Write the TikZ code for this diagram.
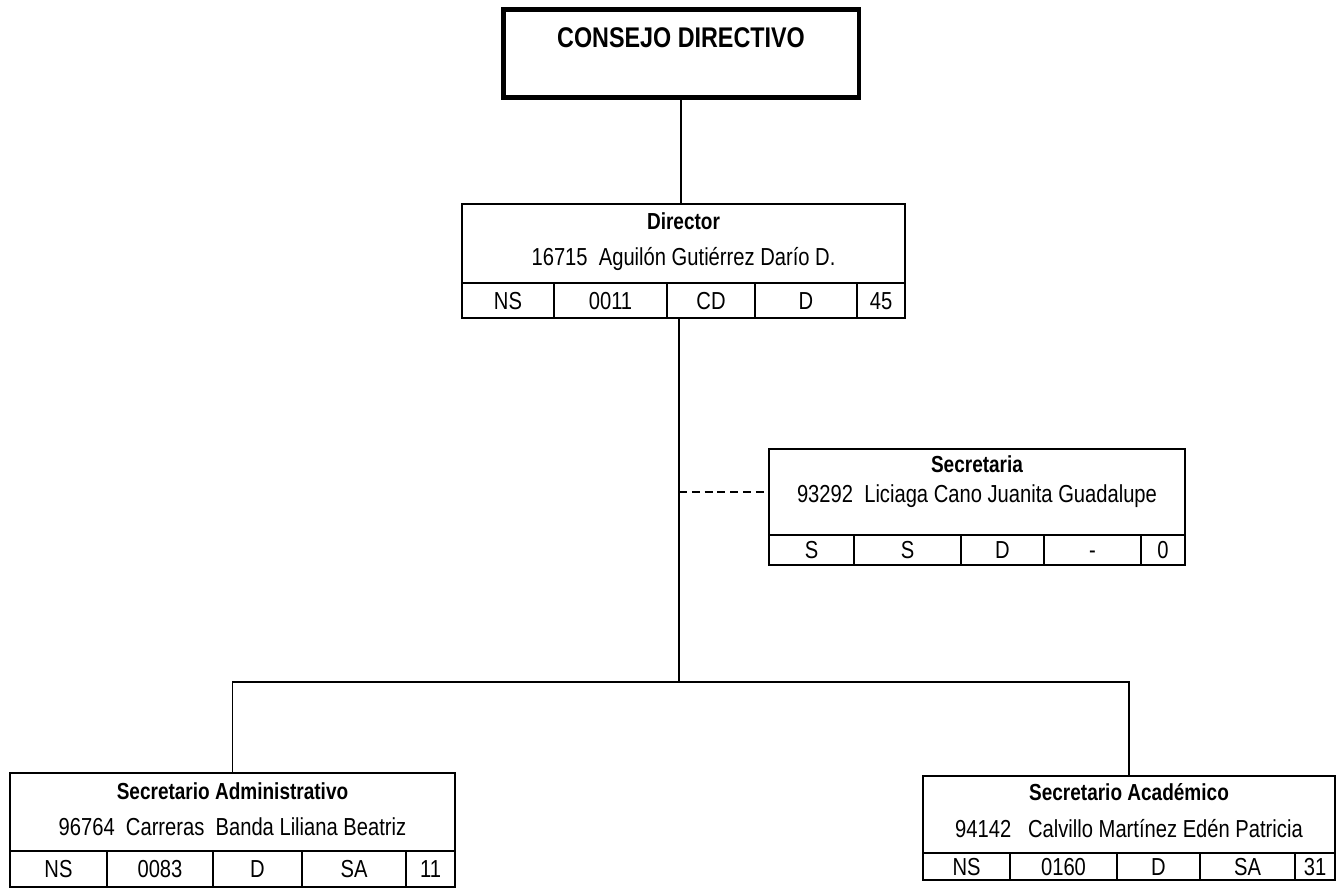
\documentclass[tikz,border=0pt]{standalone}
\usepackage{fontspec}
\setmainfont[FakeStretch=0.82]{Liberation Sans}

\tikzset{
  caja/.style={draw, line width=1.2pt, inner sep=0pt},
  celda/.style={draw, line width=1.2pt, inner sep=0pt, font=\fontsize{14}{16}\selectfont, text height=10pt, text depth=0pt},
  titulo/.style={anchor=base, font=\bfseries\fontsize{13.2}{15}\selectfont},
  nombre/.style={anchor=base, font=\fontsize{14}{16}\selectfont},
  linea/.style={line width=0.95pt},
}

\begin{document}
\begin{tikzpicture}[x=0.02cm, y=-0.02cm]
            \useasboundingbox (0,0) rectangle (1344,893);

            \node[caja, line width=2.8pt, minimum width=7.11cm, minimum height=1.76cm] (consejo) at (681.25,53.5) {};
            \node[anchor=base, font=\bfseries\fontsize{16.2}{18}\selectfont] (consejo-t) at (681,47.3) {CONSEJO DIRECTIVO};

            \node[caja, minimum width=8.86cm, minimum height=1.58cm] (director) at (683.5,243.5) {};
            \node[titulo] (director-t) at (683.5,229) {Director};
            \node[nombre] (director-n) at (683.5,265) {16715~~Aguilón Gutiérrez Darío D.};
            \foreach \a/\b/\t [count=\i] in {462/554/NS, 554/667/0011, 667/755/CD, 755/857/D, 857/905/45}
                \node[celda, minimum width={(\b-\a)*0.02cm}, minimum height=0.7cm] (director-\i) at ({(\a+\b)/2},300.5) {\t};

            \node[caja, minimum width=8.32cm, minimum height=1.72cm] (secretaria) at (977,492) {};
            \node[titulo] (secretaria-t) at (977,472) {Secretaria};
            \node[nombre] (secretaria-n) at (977,502) {93292~~Liciaga Cano Juanita Guadalupe};
            \foreach \a/\b/\t [count=\i] in {769/854/S, 854/961/S, 961/1044/D, 1044/1141/-, 1141/1185/0}
                \node[celda, minimum width={(\b-\a)*0.02cm}, minimum height=0.6cm] (secretaria-\i) at ({(\a+\b)/2},550) {\t};

            \node[caja, minimum width=8.9cm, minimum height=1.56cm] (secadm) at (232.5,812) {};
            \node[titulo] (secadm-t) at (232.5,799) {Secretario Administrativo};
            \node[nombre] (secadm-n) at (232.5,835) {96764~~Carreras~~Banda Liliana Beatriz};
            \foreach \a/\b/\t [count=\i] in {10/107/NS, 107/213/0083, 213/302/D, 302/406/SA, 406/455/11}
                \node[celda, minimum width={(\b-\a)*0.02cm}, minimum height=0.72cm] (secadm-\i) at ({(\a+\b)/2},869) {\t};

            \node[caja, minimum width=8.24cm, minimum height=1.54cm] (secacad) at (1129,814.5) {};
            \node[titulo] (secacad-t) at (1129,800) {Secretario Académico};
            \node[nombre] (secacad-n) at (1129,837) {94142~~~Calvillo Martínez Edén Patricia};
            \foreach \a/\b/\t [count=\i] in {923/1010/NS, 1010/1117/0160, 1117/1200/D, 1200/1295/SA, 1295/1335/31}
                \node[celda, minimum width={(\b-\a)*0.02cm}, minimum height=0.54cm] (secacad-\i) at ({(\a+\b)/2},866.5) {\t};

            \coordinate (bus) at (679,682);
            \draw[linea] (consejo.south) -- (consejo.south |- director.north);
            \draw[linea] (bus |- director-3.south) -- (bus);
            \draw[linea] (secadm.north) |- (bus) -| (secacad.north);
            \draw[linea, dash pattern=on 4.5pt off 2.8pt] (bus |- secretaria.west) -- (secretaria.west);
        \end{tikzpicture}
\end{document}
